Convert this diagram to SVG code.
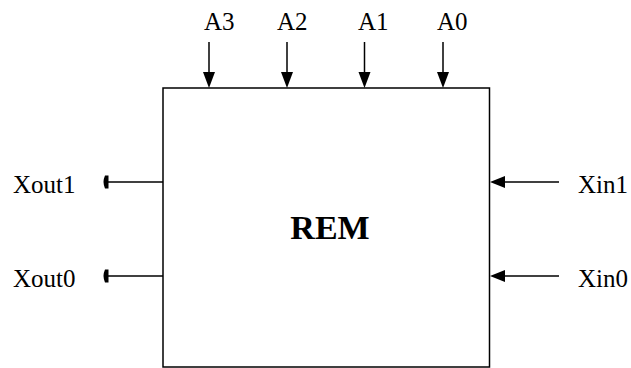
<svg xmlns="http://www.w3.org/2000/svg" width="631" height="368" viewBox="0 0 631 368">
<defs>
<style>
.lbl{font-family:"Liberation Serif","Times New Roman",serif;font-size:25px;fill:#000}
.title{font-family:"Liberation Serif","Times New Roman",serif;font-size:34px;font-weight:bold;fill:#000}
.ln{stroke:#000;stroke-width:1.5;fill:none}
.hd{fill:#000}
</style>
</defs>
<rect width="631" height="368" fill="#fff"/>
<g id="rem">
<rect x="163" y="88" width="326.5" height="279" class="ln"/>
<text x="330" y="239" text-anchor="middle" class="title">REM</text>
</g>
<g id="labels">
<text x="204" y="30" class="lbl">A3</text>
<text x="277" y="30" class="lbl">A2</text>
<text x="358" y="30" class="lbl">A1</text>
<text x="437" y="30" class="lbl">A0</text>
<text x="13" y="193" class="lbl">Xout1</text>
<text x="13" y="287" class="lbl">Xout0</text>
<text x="578" y="193" class="lbl">Xin1</text>
<text x="578" y="287" class="lbl">Xin0</text>
</g>
<g id="connectors">
<line x1="209" y1="42" x2="209" y2="74" class="ln"/>
<polygon points="203,72 215,72 209,88" class="hd"/>
<line x1="287" y1="42" x2="287" y2="74" class="ln"/>
<polygon points="281,72 293,72 287,88" class="hd"/>
<line x1="364.5" y1="42" x2="364.5" y2="74" class="ln"/>
<polygon points="358.5,72 370.5,72 364.5,88" class="hd"/>
<line x1="443" y1="42" x2="443" y2="74" class="ln"/>
<polygon points="437,72 449,72 443,88" class="hd"/>
<line x1="559" y1="182" x2="502" y2="182" class="ln"/>
<polygon points="505,176 505,188 490,182" class="hd"/>
<line x1="559" y1="276" x2="502" y2="276" class="ln"/>
<polygon points="505,270 505,282 490,276" class="hd"/>
<line x1="163" y1="182" x2="107" y2="182" class="ln"/>
<path d="M108.5,175.5 L108.5,188.5 L105,188.5 Q102,182 105,175.5 Z" class="hd"/>
<line x1="163" y1="276" x2="107" y2="276" class="ln"/>
<path d="M108.5,269.5 L108.5,282.5 L105,282.5 Q102,276 105,269.5 Z" class="hd"/>
</g>
</svg>
